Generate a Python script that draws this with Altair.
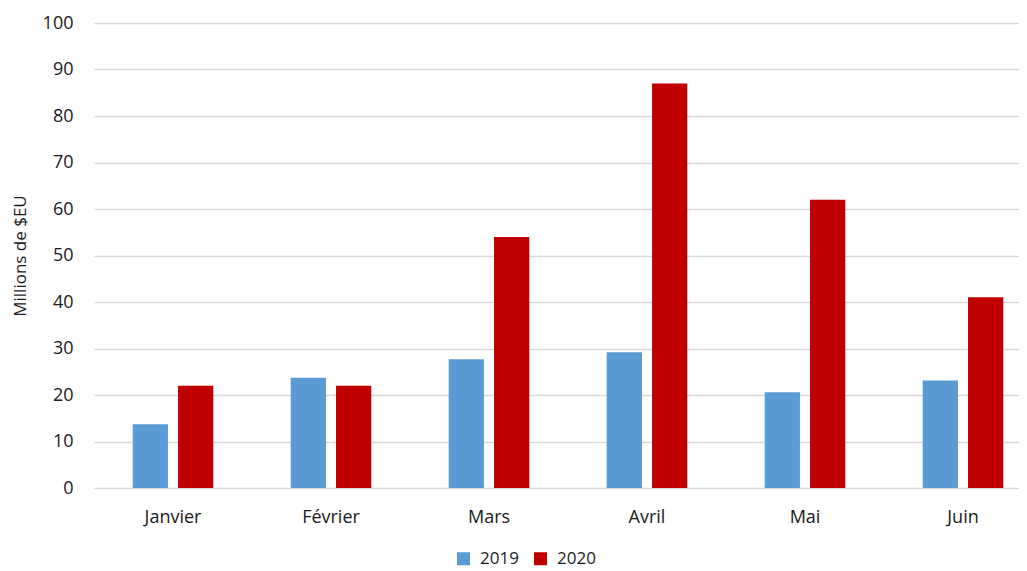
import altair as alt
import pandas as pd

months = ["Janvier", "Février", "Mars", "Avril", "Mai", "Juin"]
v2019 = [13.7, 23.7, 27.7, 29.2, 20.6, 23.1]
v2020 = [22, 22, 54, 87, 62, 41]
years = ["2019", "2020"]
colors = ["#5B9BD5", "#C00000"]
y_ticks = [0, 10, 20, 30, 40, 50, 60, 70, 80, 90, 100]

rows = []
for m, a, b in zip(months, v2019, v2020):
    rows.append({"mois": m, "annee": years[0], "valeur": a})
    rows.append({"mois": m, "annee": years[1], "valeur": b})
df = pd.DataFrame(rows)

FONT = "Open Sans"
TXT = "#1a1a1a"

chart = alt.Chart(df).mark_bar().encode(
    x=alt.X(
        "mois:N", sort=months,
        scale=alt.Scale(range=[0, 948], paddingInner=0.49, paddingOuter=0.245),
        axis=alt.Axis(title=None, labelAngle=0, domain=False, ticks=False,
                      labelFontSize=18, labelPadding=20, labelColor=TXT,
                      labelFont=FONT, grid=False),
    ),
    xOffset=alt.XOffset("annee:N", sort=years,
                        scale=alt.Scale(paddingInner=0.222, paddingOuter=0)),
    y=alt.Y(
        "valeur:Q", scale=alt.Scale(domain=[0, 100]),
        axis=alt.Axis(values=y_ticks, title="Millions de $EU", domain=False,
                      ticks=False, labelFontSize=18, labelPadding=21,
                      labelColor=TXT, labelFont=FONT, titleFont=FONT,
                      titleFontSize=17, titleFontWeight="normal",
                      titleColor=TXT, titlePadding=13,
                      gridColor="#d9d9d9", gridWidth=1.3),
    ),
    color=alt.Color(
        "annee:N",
        scale=alt.Scale(domain=years, range=colors),
        legend=alt.Legend(title=None, orient="none", legendX=361, legendY=527,
                          direction="horizontal", symbolType="square",
                          symbolSize=169, symbolStrokeWidth=0,
                          labelFontSize=17, labelFont=FONT, labelColor=TXT,
                          labelOffset=8, columnPadding=13, padding=0),
    ),
).properties(
    width=925, height=465,
    autosize=alt.AutoSizeParams(type="none"),
    padding={"left": 86, "top": 15, "right": 0, "bottom": 83},
).configure_view(stroke=None)

chart.save("out.html", embed_options={"renderer": "svg", "actions": False})
